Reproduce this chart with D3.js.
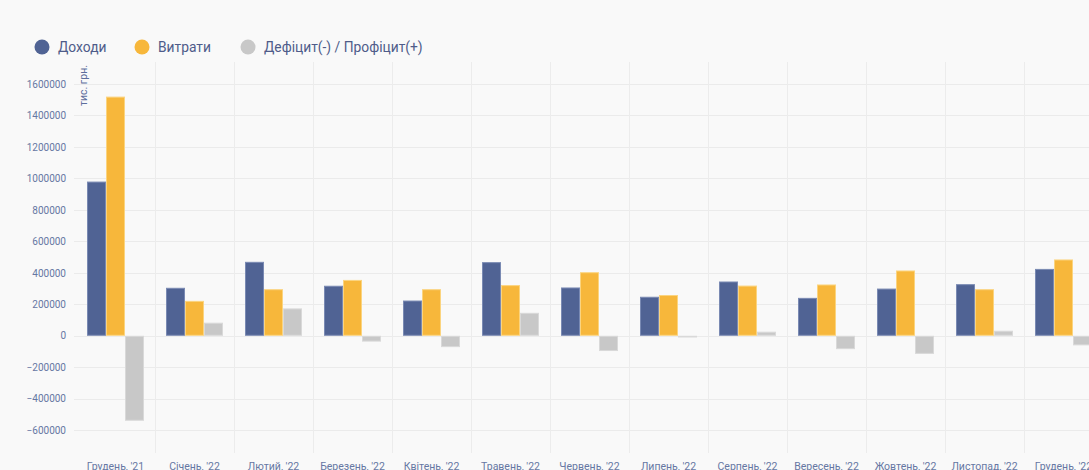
<!DOCTYPE html>
<html>
<head>
<meta charset="utf-8">
<script src="https://cdn.jsdelivr.net/npm/d3@7"></script>
<style>
  html, body { margin: 0; padding: 0; background: #f9f9f9; overflow: hidden; }
  svg { display: block; font-family: Roboto, "Liberation Sans", Arial, sans-serif; }
</style>
</head>
<body>
<svg id="chart" width="1089" height="470"></svg>
<script>
const months = ["Грудень, '21", "Січень, '22", "Лютий, '22", "Березень, '22", "Квітень, '22", "Травень, '22",
  "Червень, '22", "Липень, '22", "Серпень, '22", "Вересень, '22", "Жовтень, '22", "Листопад, '22", "Грудень, '22"];
const income = [980000, 305000, 470000, 318000, 224000, 468000, 307000, 248000, 345000, 241000, 300000, 328000, 425000];
const expense = [1520000, 222000, 296000, 355000, 296000, 322000, 404000, 259000, 319000, 326000, 415000, 296000, 485000];
const balance = [-540000, 83000, 174000, -37000, -72000, 146000, -97000, -11000, 26000, -85000, -115000, 32000, -61000];
const yTicks = [-600000, -400000, -200000, 0, 200000, 400000, 600000, 800000, 1000000, 1200000, 1400000, 1600000];
const seriesNames = ["Доходи", "Витрати", "Дефіцит(-) / Профіцит(+)"];
const colors = ["#506394", "#f7b73b", "#c8c8c8"];
const strokes = ["#7a8ab3", "#fbd47f", "#d9d9d9"];

const svg = d3.select('#chart');
const margin = { top: 62, left: 76, bottom: 453 };

const x = d3.scaleBand()
  .domain(months)
  .range([margin.left, margin.left + 79 * months.length])
  .paddingInner(0)
  .paddingOuter(0);

const inner = d3.scaleBand()
  .domain([0, 1, 2])
  .range([11, 68]);

const y = d3.scaleLinear()
  .domain([-745000, 1740000])
  .range([margin.bottom, margin.top]);

// horizontal grid
svg.append('g')
  .selectAll('line')
  .data(yTicks)
  .join('line')
  .attr('x1', 74)
  .attr('x2', 1089)
  .attr('y1', d => Math.round(y(d)) + 0.5)
  .attr('y2', d => Math.round(y(d)) + 0.5)
  .attr('stroke', '#ebebeb')
  .attr('stroke-width', 1);

// vertical grid at band boundaries
svg.append('g')
  .selectAll('line')
  .data(months.slice(1))
  .join('line')
  .attr('x1', d => Math.round(x(d)) + 0.5)
  .attr('x2', d => Math.round(x(d)) + 0.5)
  .attr('y1', margin.top)
  .attr('y2', margin.bottom)
  .attr('stroke', '#ececec')
  .attr('stroke-width', 1);

// y axis
const yAxis = svg.append('g')
  .attr('transform', 'translate(66,0)')
  .call(d3.axisLeft(y).tickValues(yTicks).tickFormat(d3.format('d')).tickSize(0).tickPadding(0));
yAxis.select('.domain').remove();
yAxis.selectAll('text')
  .attr('fill', '#6677a3')
  .attr('font-size', 10)
  .attr('font-family', 'Roboto, "Liberation Sans", Arial, sans-serif');

// x axis
const xAxis = svg.append('g')
  .attr('transform', 'translate(0,' + 463 + ')')
  .call(d3.axisBottom(x).tickSize(0).tickPadding(0));
xAxis.select('.domain').remove();
xAxis.selectAll('text')
  .attr('fill', '#6677a3')
  .attr('font-size', 10.5)
  .attr('font-family', 'Roboto, "Liberation Sans", Arial, sans-serif');

// bars
const series = [income, expense, balance];
series.forEach((vals, s) => {
  svg.append('g')
    .selectAll('rect')
    .data(vals)
    .join('rect')
    .attr('x', (d, i) => x(months[i]) + inner(s) + 0.5)
    .attr('width', inner.bandwidth() - 1)
    .attr('y', d => y(Math.max(0, d)) + 0.5)
    .attr('height', d => Math.max(0, Math.abs(y(d) - y(0)) - 1))
    .attr('fill', colors[s])
    .attr('stroke', strokes[s])
    .attr('stroke-width', 1);
});

// unit label
svg.append('text')
  .attr('transform', 'translate(87,65) rotate(-90)')
  .attr('text-anchor', 'end')
  .attr('fill', '#5d6e9c')
  .attr('font-size', 10.5)
  .text('тис. грн.');

// legend
const legendX = [42, 142, 248];
const legend = svg.append('g')
  .selectAll('g')
  .data(seriesNames)
  .join('g')
  .attr('transform', (d, i) => 'translate(' + legendX[i] + ',47)');
legend.append('circle')
  .attr('r', 7.5)
  .attr('fill', (d, i) => colors[i]);
legend.append('text')
  .attr('x', 16)
  .attr('dy', '0.35em')
  .attr('fill', '#4f5c8a')
  .attr('font-size', 13.8)
  .text(d => d);
</script>
</body>
</html>
